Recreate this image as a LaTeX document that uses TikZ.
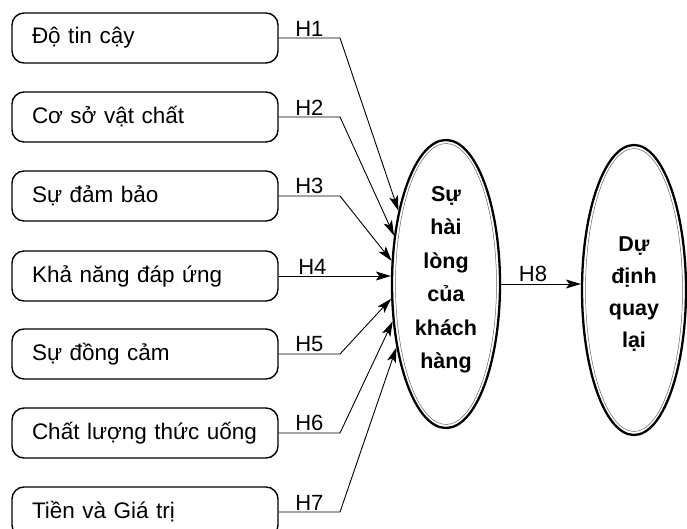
\documentclass[tikz,border=0pt]{standalone}
\usepackage{fontspec}
\setmainfont{Liberation Sans}
\usetikzlibrary{shapes.geometric,arrows.meta}
\tikzset{
 factor/.style={draw, line width=1.4pt, rounded corners=12pt, minimum width=266pt, minimum height=50pt, text width=226pt, inner xsep=20pt, inner ysep=0pt, align=left, font=\fontsize{22.5}{26}\selectfont},
 construct/.style={draw, ellipse, line width=2.3pt, inner sep=0pt},
 innerline/.style={line width=0.5pt, black!60},
 ctext/.style={align=center, font=\fontsize{21.5}{33.5}\selectfont\bfseries, inner sep=0pt},
 conn/.style={line width=0.9pt, -{Stealth[length=15pt,width=9pt,inset=3.5pt]}},
 hlab/.style={font=\fontsize{22}{26}\selectfont, inner sep=1.5pt, above}
}
\begin{document}
\begin{tikzpicture}[x=1pt,y=-1pt]
\useasboundingbox (0,0) rectangle (687,529);
\node[factor] (b1) at (145,38) {Độ tin cậy};
\node[factor] (b2) at (145,117) {Cơ sở vật chất};
\node[factor] (b3) at (145,196) {Sự đảm bảo};
\node[factor] (b4) at (145,276) {Khả năng đáp ứng};
\node[factor] (b5) at (145,354) {Sự đồng cảm};
\node[factor] (b6) at (145,433) {Chất lượng thức uống};
\node[factor] (b7) at (145,512) {Tiền và Giá trị};
\coordinate (bend) at (340,0);
\node[construct, minimum width=108pt, minimum height=288pt] (sat) at (446,284) {};
\draw[innerline] (sat.center) ellipse [x radius=50.5pt, y radius=140.5pt];
\node[ctext] (sattxt) at (446,280) {Sự\\hài\\lòng\\của\\khách\\hàng};
\node[construct, minimum width=104pt, minimum height=290pt] (intent) at (634,290) {};
\draw[innerline] (intent.center) ellipse [x radius=48.5pt, y radius=141.5pt];
\node[ctext, font=\fontsize{21.5}{32}\selectfont\bfseries] (intenttxt) at (634,294) {Dự\\định\\quay\\lại};
\draw[conn] (b1.east) -- node[hlab]{H1} (b1.east -| bend) -- (sat.123);
\draw[conn] (b2.east) -- node[hlab]{H2} (b2.east -| bend) -- (sat.137);
\draw[conn] (b3.east) -- node[hlab]{H3} (b3.east -| bend) -- (sat.157);
\draw[conn] (b4.east) -- node[hlab, pos=0.3]{H4} (b4.east -| sat.west);
\draw[conn] (b5.east) -- node[hlab]{H5} (b5.east -| bend) -- (sat.195);
\draw[conn] (b6.east) -- node[hlab]{H6} (b6.east -| bend) -- (sat.215);
\draw[conn] (b7.east) -- node[hlab]{H7} (b7.east -| bend) -- (sat.232);
\draw[conn] (sat.east) -- node[hlab, pos=0.4]{H8} (sat.east -| intent.west);
\end{tikzpicture}
\end{document}
